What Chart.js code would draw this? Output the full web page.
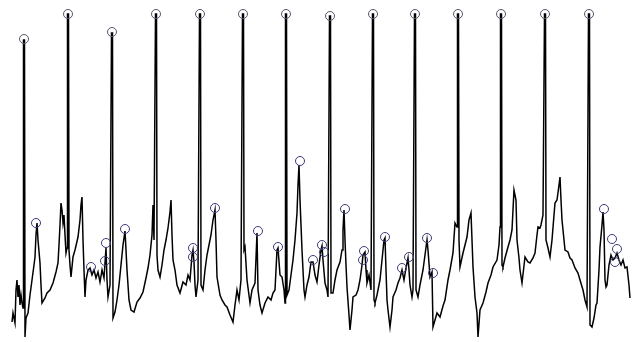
<!DOCTYPE html>
<html>
<head>
<meta charset="utf-8">
<script src="https://cdn.jsdelivr.net/npm/chart.js@4/dist/chart.umd.min.js"></script>
<style>
  html, body { margin: 0; padding: 0; background: #fff; }
  #wrap { width: 635px; height: 342px; }
</style>
</head>
<body>
<div id="wrap"><canvas id="ecgChart" width="635" height="342"></canvas></div>
<script>
// trace samples: [sample position, level] (level read top-down, as in the picture)
const trace = [
  [12,322],[13,313],[15,323],[16,290],[17,280],[18,297],[19,285],[20,305],[21,295],[22,303],[23,308],
  [23.5,40],[24.5,40],[25,337],
  [26,318],[28,313],[30,295],[32,280],[34,265],[35,257],[36,235],[37,223],[38,240],[40,263],[41,285],[42,303],[45,298],[47,293],[50,290],[53,283],[56,272],[58,263],[59,245],[60,225],[61,203],[62,210],[63,223],[64,215],[65,235],[66,253],[67,248],
  [67.5,14],[68.5,14],[69,250],
  [70,265],[71,277],[73,257],[75,250],[78,237],[80,220],[81,205],[82,197],[83,240],[84,270],[85,297],[86,280],[88,270],[90,268],[92,275],[94,270],[96,278],[98,272],[100,282],[102,270],[104,278],[106,248],[107,280],[108,297],[110,285],
  [111.5,33],[112.5,33],[113,318],
  [115,312],[117,300],[119,285],[121,265],[123,245],[125,231],[126,250],[127,270],[129,300],[131,310],[134,312],[137,302],[140,298],[143,292],[146,278],[148,268],[150,255],[152,235],[153,205],[154,240],
  [155.5,14],[156.5,14],[157,255],
  [158,270],[160,277],[162,265],[164,250],[166,240],[168,228],[170,212],[171,200],[172,235],[173,260],[175,270],[177,285],[180,293],[183,282],[186,285],[188,275],[190,280],[192,255],[193,250],[194,262],[195,285],[196,297],[198,280],
  [199.5,14],[200.5,14],[201,285],
  [203,290],[205,270],[207,255],[209,245],[211,235],[213,220],[215,210],[216,240],[217,277],[220,295],[222,300],[225,305],[227,307],[230,315],[233,322],[235,305],[237,290],[239,300],[241,280],
  [242.5,14],[243.5,14],[244,250],
  [245,247],[247,280],[250,303],[252,290],[255,283],[257,233],[258,290],[260,305],[262,313],[265,303],[268,297],[271,300],[273,293],[275,290],[277,250],[278,248],[280,275],[282,277],[284,290],[285,303],
  [285.5,14],[286.5,14],[287,295],
  [289,290],[291,275],[293,260],[295,240],[297,213],[298,185],[299,165],[300,200],[302,250],[304,290],[305,297],[307,285],[309,277],[311,262],[313,262],[315,275],[317,282],[319,265],[321,250],[322,246],[323,260],[325,283],[327,290],[328,297],
  [329.5,16],[330.5,16],[331,293],
  [333,293],[335,280],[337,270],[340,262],[342,250],[343,230],[344,210],[345,240],[346,265],[347,287],[349,315],[350,330],[352,310],[353,297],[356,295],[358,290],[360,280],[362,265],[363,255],[365,252],[366,270],[367,283],[369,275],[371,290],
  [372.5,14],[373.5,14],[374,300],
  [375,303],[377,295],[380,280],[382,260],[384,240],[385,238],[386,270],[387,300],[388,310],[390,327],[392,310],[393,297],[396,290],[398,283],[400,278],[402,270],[404,280],[406,268],[408,258],[409,270],[410,285],[412,297],[413,290],
  [414.5,14],[415.5,14],[416,290],
  [418,297],[420,285],[423,270],[425,255],[427,240],[428,250],[430,277],[432,272],[433,327],[435,320],[437,313],[440,317],[443,306],[445,300],[448,280],[450,270],[453,253],[455,223],[457,227],
  [457.5,14],[458.5,14],[459,240],
  [460,267],[463,253],[465,245],[467,237],[469,220],[471,213],[472,240],[473,267],[475,297],[477,313],[478,337],[480,310],[483,303],[486,292],[488,283],[491,275],[493,267],[497,260],[499,245],[500,227],
  [500.5,14],[501.5,14],[502,265],
  [503,267],[505,258],[508,247],[510,240],[512,230],[513,210],[514,190],[516,200],[517,240],[519,258],[520,270],[522,283],[525,257],[528,262],[530,263],[533,258],[535,253],[537,235],[538,227],[540,228],[541,225],[543,215],
  [544.5,14],[545.5,14],[546,240],
  [548,248],[550,257],[552,240],[554,215],[555,203],[557,200],[559,185],[560,177],[561,200],[562,220],[564,240],[565,250],[568,252],[570,258],[572,260],[575,268],[578,273],[580,280],[583,290],[585,300],[587,307],
  [588.5,14],[589.5,14],[590,325],
  [592,327],[594,318],[596,305],[597,303],[599,270],[600,247],[602,225],[603,212],[604,230],[605,280],[606,287],[607,285],[609,265],[611,255],[613,260],[615,258],[617,253],[619,260],[621,265],[623,260],[625,268],[627,267],[629,285],[630,298]
];

// R peaks found by the detector
const rPeaks = [
  [24,39],[68,14],[112,32],[156,14],[200,14],[243,14],[286,14],
  [330,16],[373,14],[415,14],[458,14],[501,14],[545,14],[589,14]
];

// other detected waves
const otherPeaks = [
  [36,223],[91,267],[106,243],[105,261],[125,229],[193,248],[193,257],[215,208],
  [258,231],[278,247],[300,161],[313,260],[322,245],[324,252],[345,209],[364,251],
  [363,260],[385,237],[402,268],[409,257],[427,238],[433,273],[604,209],[612,239],
  [617,249],[615,262]
];

const toXY = arr => arr.map(p => ({ x: p[0], y: p[1] }));

new Chart(document.getElementById('ecgChart').getContext('2d'), {
  type: 'line',
  data: {
    datasets: [
      {
        data: toXY(trace),
        borderColor: '#000',
        borderWidth: 1.5,
        pointRadius: 0,
        tension: 0,
        order: 2
      },
      {
        data: toXY(rPeaks),
        showLine: false,
        pointStyle: 'circle',
        pointRadius: 4.5,
        pointBorderWidth: 1,
        pointBorderColor: '#55556e',
        pointBackgroundColor: 'rgba(255,255,255,0)',
        order: 1
      },
      {
        data: toXY(otherPeaks),
        showLine: false,
        pointStyle: 'circle',
        pointRadius: 4.5,
        pointBorderWidth: 1,
        pointBorderColor: '#3b3b7a',
        pointBackgroundColor: 'rgba(255,255,255,0)',
        order: 1
      }
    ]
  },
  options: {
    responsive: false,
    animation: false,
    layout: { padding: 0, autoPadding: false },
    plugins: { legend: { display: false }, tooltip: { enabled: false } },
    scales: {
      x: { type: 'linear', min: 0, max: 635, display: false },
      y: { type: 'linear', min: 0, max: 342, reverse: true, display: false }
    }
  }
});
</script>
</body>
</html>
